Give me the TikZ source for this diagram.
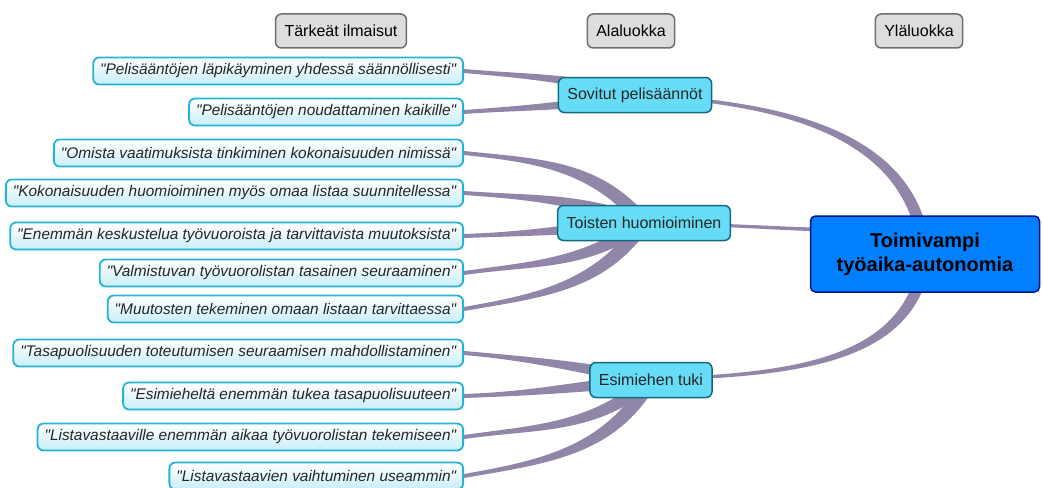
\documentclass[tikz,border=0pt]{standalone}
\usepackage{fontspec}
\setmainfont{Liberation Sans}[Ligatures=TeXOff]
\usetikzlibrary{positioning,calc}
\pgfdeclarelayer{bg}
\pgfsetlayers{bg,main}

\definecolor{linkc}{RGB}{146,134,168}
\definecolor{headfill}{RGB}{221,221,221}
\definecolor{headdraw}{RGB}{110,110,110}
\definecolor{leafdraw}{RGB}{38,178,214}
\definecolor{leafbot}{RGB}{200,238,250}
\definecolor{subfill}{RGB}{102,220,246}
\definecolor{subdraw}{RGB}{22,104,126}
\definecolor{mainfill}{RGB}{0,128,255}
\definecolor{maindraw}{RGB}{0,20,140}

% tapered connector: from, to, out, in, half width at start, half width at end
\newcommand{\taper}[6]{%
  \fill[link] ($(#1)+({#3+90}:#5)$) to[out=#3,in=#4] ($(#2)+({#4-90}:#6)$)
    -- ($(#2)+({#4+90}:#6)$) to[out=#4,in=#3] ($(#1)+({#3-90}:#5)$) -- cycle;}

\tikzset{
  header/.style={draw=headdraw, line width=1.5pt, fill=headfill, rounded corners=6pt,
    minimum height=34pt, inner xsep=9pt, font=\fontsize{16}{19}\selectfont},
  leaf/.style={draw=leafdraw, line width=1.8pt, top color=white, bottom color=leafbot,
    rounded corners=6pt, minimum height=27pt, inner xsep=7pt, anchor=east,
    text=black!85, font=\fontsize{15.4}{18}\selectfont\itshape},
  sub/.style={draw=subdraw, line width=1.5pt, fill=subfill, rounded corners=6pt,
    minimum height=35pt, inner xsep=9pt, text=black!85, font=\fontsize{16}{19}\selectfont},
  mainbox/.style={draw=maindraw, line width=1.5pt, fill=mainfill, rounded corners=5pt,
    minimum width=229pt, minimum height=76pt, align=center,
    font=\fontsize{20}{24}\selectfont\bfseries},
  link/.style={fill=linkc}
}

\begin{document}
\begin{tikzpicture}[x=1pt, y=1pt]
\useasboundingbox (0,0) rectangle (1043,-487);

% column headers
\node[header] (ilmaisut) at (341,-31) {Tärkeät ilmaisut};
\node[header] (ala) at (631,-31) {Alaluokka};
\node[header] (yla) at (919,-31) {Yläluokka};

% main category
\node[mainbox] (paa) at (925,-254) {Toimivampi\\työaika-autonomia};
\coordinate (paain) at ($(paa.west)+(20,24)$);

% subcategories
\node[sub] (sovitut) at (635,-95) {Sovitut pelisäännöt};
\node[sub] (toisten) at (644,-223) {Toisten huomioiminen};
\node[sub] (esimies) at (651,-380) {Esimiehen tuki};

% expressions
\node[leaf] (l1) at (464,-71) {"Pelisääntöjen läpikäyminen yhdessä säännöllisesti"};
\node[leaf] (l2) at (464,-112) {"Pelisääntöjen noudattaminen kaikille"};
\node[leaf] (l3) at (464,-153) {"Omista vaatimuksista tinkiminen kokonaisuuden nimissä"};
\node[leaf] (l4) at (464,-193) {"Kokonaisuuden huomioiminen myös omaa listaa suunnitellessa"};
\node[leaf] (l5) at (464,-236) {"Enemmän keskustelua työvuoroista ja tarvittavista muutoksista"};
\node[leaf] (l6) at (464,-273) {"Valmistuvan työvuorolistan tasainen seuraaminen"};
\node[leaf] (l7) at (464,-309) {"Muutosten tekeminen omaan listaan tarvittaessa"};
\node[leaf] (l8) at (464,-353) {"Tasapuolisuuden toteutumisen seuraamisen mahdollistaminen"};
\node[leaf] (l9) at (464,-396) {"Esimieheltä enemmän tukea tasapuolisuuteen"};
\node[leaf] (l10) at (464,-437) {"Listavastaaville enemmän aikaa työvuorolistan tekemiseen"};
\node[leaf] (l11) at (464,-476) {"Listavastaavien vaihtuminen useammin"};

\begin{pgfonlayer}{bg}
  % subcategory -> main
  \taper{sovitut.center}{paa.center}{-3}{95}{1.6}{6}
  \taper{toisten.center}{paain}{-1}{178}{1.4}{1.8}
  \taper{esimies.center}{paa.center}{3}{-95}{1.6}{6}
  % expressions -> subcategory
  \taper{l1.east}{sovitut.center}{-5}{165}{2}{5}
  \taper{l2.east}{sovitut.center}{4}{-170}{2}{5}
  \taper{l3.east}{toisten.center}{-6}{130}{2}{7}
  \taper{l4.east}{toisten.center}{-4}{160}{2}{6.5}
  \taper{l5.east}{toisten.center}{2}{-175}{2}{6}
  \taper{l6.east}{toisten.center}{8}{-145}{2}{6.5}
  \taper{l7.east}{toisten.center}{10}{-125}{2}{7}
  \taper{l8.east}{esimies.center}{-5}{170}{2}{6}
  \taper{l9.east}{esimies.center}{2}{-175}{2}{6}
  \taper{l10.east}{esimies.center}{8}{-140}{2}{6.5}
  \taper{l11.east}{esimies.center}{10}{-120}{2}{7}
\end{pgfonlayer}
\end{tikzpicture}
\end{document}
